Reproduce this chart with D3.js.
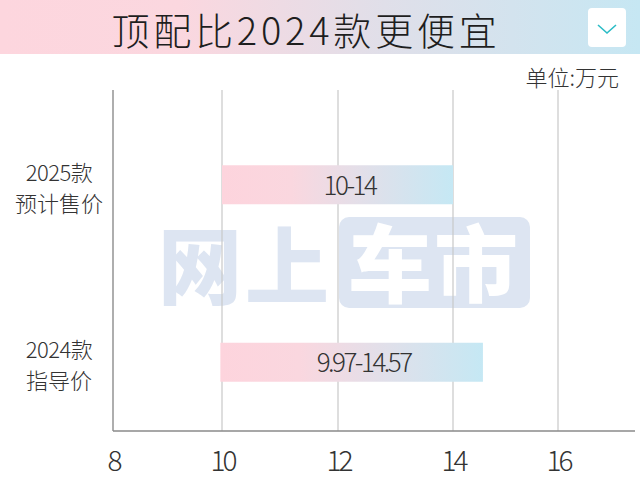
<!DOCTYPE html>
<html>
<head>
<meta charset="utf-8">
<script src="https://cdn.jsdelivr.net/npm/d3@7"></script>
<style>
  html, body { margin: 0; padding: 0; background: #fff; }
  svg { display: block; }
  text { font-family: "Noto Sans CJK SC", "Noto Sans", sans-serif; font-weight: 300; }
</style>
</head>
<body>
<svg id="chart" width="640" height="480"></svg>
<script>
// ---- data ----
const titleText = "顶配比2024款更便宜";
const unitText = "单位:万元";
const categories = ["2025款", "2024款"];
const labelLine1 = ["2025款", "2024款"];
const labelLine2 = ["预计售价", "指导价"];
const minPrice = [10, 9.97];
const maxPrice = [14, 14.57];
const rangeLabels = ["10-14", "9.97-14.57"];
const xTickValues = [8, 10, 12, 14, 16];
const xTickLabels = ["8", "10", "12", "14", "16"];

const svg = d3.select("#chart");
const defs = svg.append("defs");

// gradients
const bandGrad = defs.append("linearGradient").attr("id", "bandGrad")
  .attr("x1", "0%").attr("x2", "100%").attr("y1", "0%").attr("y2", "0%");
[[0, "#fdd6de"], [0.28, "#fbd7df"], [0.6, "#e0dfe9"], [1, "#c6e7f3"]].forEach(([o, c]) =>
  bandGrad.append("stop").attr("offset", o).attr("stop-color", c));

const barGrad = defs.append("linearGradient").attr("id", "barGrad")
  .attr("x1", "0%").attr("x2", "100%").attr("y1", "0%").attr("y2", "0%");
[[0, "#fdd4dd"], [0.3, "#fad7df"], [0.6, "#e3dfe9"], [1, "#c5e8f4"]].forEach(([o, c]) =>
  barGrad.append("stop").attr("offset", o).attr("stop-color", c));

// title band
svg.append("rect").attr("x", 0).attr("y", 0).attr("width", 640).attr("height", 54)
  .attr("fill", "url(#bandGrad)");
svg.append("text").attr("x", 306).attr("y", 45)
  .attr("text-anchor", "middle").attr("font-size", 38).attr("letter-spacing", 3.8)
  .attr("fill", "#1e1e1e").text(titleText);

// dropdown icon
svg.append("rect").attr("x", 588).attr("y", 8).attr("width", 38).attr("height", 39)
  .attr("rx", 4).attr("fill", "#fff");
svg.append("path").attr("d", "M598,25 L607,33 L616,25")
  .attr("fill", "none").attr("stroke", "#2bbcc6").attr("stroke-width", 1.6);

// unit
svg.append("text").attr("x", 619).attr("y", 86).attr("text-anchor", "end")
  .attr("font-size", 22).attr("fill", "#333").text(unitText);

// scales
const plotTop = 90, plotBottom = 431;
const x = d3.scaleLinear()
  .domain([8, 10, 12, 14, 16, 17.47])
  .range([113, 222, 338, 453, 558, 635]);
const y = d3.scaleBand().domain(categories).range([96, 451]);
const barH = 39;

// watermark
const wm = svg.append("g");
wm.append("text").attr("x", 158).attr("y", 298).attr("font-size", 84)
  .style("font-weight", 900)
  .attr("fill", "#dde5f2").attr("letter-spacing", 3).text("网上");
wm.append("rect").attr("x", 339).attr("y", 217).attr("width", 191).attr("height", 91)
  .attr("rx", 10).attr("fill", "#dde5f2");
wm.append("text").attr("x", 434).attr("y", 296).attr("text-anchor", "middle")
  .attr("font-size", 84).style("font-weight", 900).attr("fill", "#fff")
  .attr("letter-spacing", 2).text("车市");

// gridlines
svg.append("g").selectAll("line").data(xTickValues.slice(1)).join("line")
  .attr("x1", d => x(d)).attr("x2", d => x(d))
  .attr("y1", plotTop).attr("y2", plotBottom)
  .attr("stroke", "#c8c8c8").attr("stroke-width", 1.2);

// bars
const bars = svg.append("g");
bars.selectAll("rect").data(categories).join("rect")
  .attr("x", (d, i) => x(minPrice[i]))
  .attr("width", (d, i) => x(maxPrice[i]) - x(minPrice[i]))
  .attr("y", d => y(d) + y.bandwidth() / 2 - barH / 2)
  .attr("height", barH)
  .attr("fill", "url(#barGrad)");
bars.selectAll("text").data(categories).join("text")
  .attr("x", (d, i) => (x(minPrice[i]) + x(maxPrice[i])) / 2 + 12)
  .attr("y", d => y(d) + y.bandwidth() / 2 + 10)
  .attr("text-anchor", "middle").attr("font-size", 26).attr("letter-spacing", -2.5)
  .attr("fill", "#333").text((d, i) => rangeLabels[i]);

// y axis line
svg.append("line").attr("x1", 113).attr("x2", 113).attr("y1", plotTop).attr("y2", plotBottom)
  .attr("stroke", "#9a9a9a").attr("stroke-width", 1.6);
// category labels
const yl = svg.append("g");
categories.forEach((c, i) => {
  const cy = y(c) + y.bandwidth() / 2;
  yl.append("text").attr("x", 59).attr("y", cy - 4).attr("text-anchor", "middle")
    .attr("font-size", 22).attr("letter-spacing", -0.5).attr("fill", "#333").text(labelLine1[i]);
  yl.append("text").attr("x", 59).attr("y", cy + 27).attr("text-anchor", "middle")
    .attr("font-size", 22).attr("fill", "#333").text(labelLine2[i]);
});

// x axis
const xAxis = d3.axisBottom(x).tickValues(xTickValues)
  .tickFormat((d, i) => xTickLabels[i]).tickSize(0).tickPadding(0);
const gx = svg.append("g").attr("transform", `translate(0,${plotBottom})`).call(xAxis);
gx.select(".domain").remove();
gx.selectAll("text").attr("y", 40).attr("dy", 0)
  .attr("font-size", 28).attr("letter-spacing", -3)
  .attr("font-family", "\"Noto Sans CJK SC\", sans-serif")
  .style("font-weight", 300)
  .attr("fill", "#333");
svg.append("line").attr("x1", 113).attr("x2", 635).attr("y1", plotBottom).attr("y2", plotBottom)
  .attr("stroke", "#8a8a8a").attr("stroke-width", 1.6);
</script>
</body>
</html>
